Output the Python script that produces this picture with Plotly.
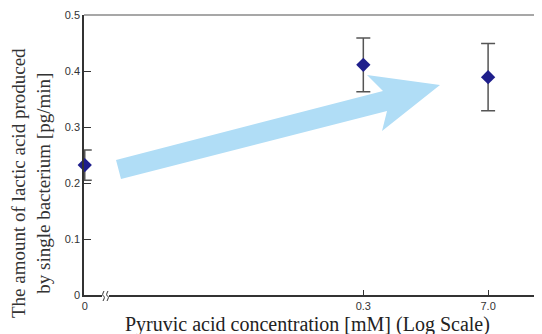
import plotly.graph_objects as go

# ---- data ----
conc_labels = ["0", "0.3", "7.0"]
conc_values = [0.000265, 0.3, 7.0]   # "0" shown at the left end of the log axis (axis break)
lactic = [0.232, 0.411, 0.389]
lactic_err = [0.027, 0.048, 0.060]
y_ticks = [0, 0.1, 0.2, 0.3, 0.4, 0.5]

OFF = 8                      # page body margin in the browser
W, H = 542 - OFF, 334 - OFF
L, R, T, B = 84 - OFF, 0, 15 - OFF, 334 - 295
PW, PH = W - L - R, H - T - B


def px(x):  # page pixel -> paper
    return (x - OFF - L) / PW


def py(y):
    return (H - B - (y - OFF)) / PH


fig = go.Figure()
fig.add_trace(go.Scatter(
    x=conc_values, y=lactic, mode="markers",
    marker=dict(symbol="diamond", size=11, color="#1f1f8c"),
    error_y=dict(type="data", array=lactic_err, visible=True,
                 color="#555555", thickness=1.5, width=7),
    cliponaxis=False, showlegend=False,
))

# block arrow (decoration)
arrow_pts = [(116, 160), (383, 91), (367, 75), (440, 85), (382, 131), (387, 111), (121, 179)]
path = "M " + " L ".join(f"{px(a):.4f},{py(b):.4f}" for a, b in arrow_pts) + " Z"
shapes = [
    dict(type="path", path=path, xref="paper", yref="paper",
         fillcolor="#b0ddf6", line=dict(width=0), layer="above"),
    # top frame line
    dict(type="line", xref="paper", yref="paper", x0=0, x1=1, y0=1, y1=1,
         line=dict(color="#8a8a8a", width=1.5)),
    # axis break gap
    dict(type="rect", xref="paper", yref="paper", x0=px(102), x1=px(109),
         y0=py(298), y1=py(293), fillcolor="white", line=dict(width=0), layer="above"),
]
for bx in (103, 107):
    shapes.append(dict(
        type="path", xref="paper", yref="paper", layer="above",
        path=(f"M {px(bx+1):.4f},{py(291):.4f} "
              f"Q {px(bx-1.5):.4f},{py(295.5):.4f} {px(bx+0.5):.4f},{py(296):.4f} "
              f"Q {px(bx+2.5):.4f},{py(296.5):.4f} {px(bx):.4f},{py(301):.4f}"),
        line=dict(color="#333333", width=1)))

annotations = [
    dict(text="The amount of lactic acid produced<br>by single bacterium [pg/min]",
         xref="paper", yref="paper", x=px(31), y=py(183), showarrow=False,
         textangle=-90, xanchor="center", yanchor="middle",
         font=dict(family="Liberation Serif", size=19, color="#333333")),
    dict(text="Pyruvic acid concentration [mM] (Log Scale)",
         xref="paper", yref="paper", x=px(307), y=py(324), showarrow=False,
         xanchor="center", yanchor="middle",
         font=dict(family="Liberation Serif", size=20, color="#222222")),
]

fig.update_layout(
    width=W, height=H, margin=dict(l=L, r=R, t=T, b=B, autoexpand=False),
    plot_bgcolor="white", paper_bgcolor="white",
    shapes=shapes, annotations=annotations,
    xaxis=dict(type="log", range=[-3.585, 1.436], tickvals=conc_values, ticktext=conc_labels,
               ticks="inside", ticklen=5, tickcolor="#333333", showgrid=False, automargin=False,
               showline=True, linecolor="#333333", linewidth=1.5, zeroline=False,
               tickfont=dict(family="Liberation Sans", size=11, color="#333333")),
    yaxis=dict(range=[0, 0.5], tickvals=y_ticks, ticktext=[str(v) for v in y_ticks],
               ticks="inside", ticklen=7, tickcolor="#333333", showgrid=False, automargin=False,
               showline=True, linecolor="#333333", linewidth=1.5, zeroline=False,
               tickfont=dict(family="Liberation Sans", size=11, color="#333333")),
)
fig.write_html("out.html")
